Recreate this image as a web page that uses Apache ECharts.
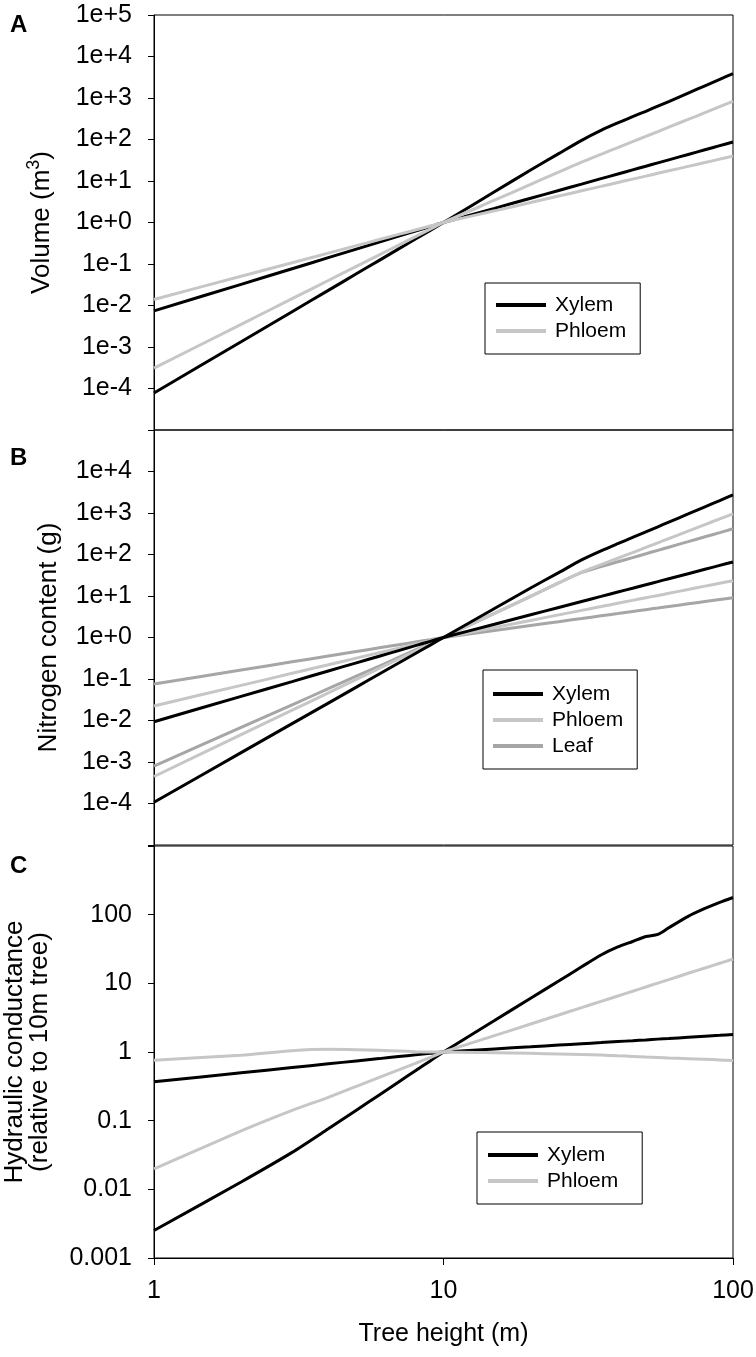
<!DOCTYPE html>
<html>
<head>
<meta charset="utf-8">
<script src="https://cdn.jsdelivr.net/npm/echarts@6/dist/echarts.min.js"></script>
<style>
html,body{margin:0;padding:0;background:#fff;}
#chart{width:756px;height:1357px;}
</style>
</head>
<body>
<div id="chart"></div>
<script>
// Tree heights (m) at which every curve is sampled
const heights = [1,2,3,4,5,6,7,8,9,10,15,20,25,30,35,40,45,50,55,60,70,80,90,100];

// Panel A: Volume (m3)
const volXylemSteep    = [7.8e-5,1.34e-3,7.1e-3,0.0231,0.058,0.1225,0.231,0.399,0.647,1,5.49,18.4,45.7,95.5,166,251,355,479,635,822,1315,1972,2818,3890];
const volXylemShallow  = [0.00741,0.0324,0.0769,0.142,0.229,0.337,0.468,0.621,0.798,1,2.19,3.84,5.92,8.42,11.4,14.7,18.5,22.7,27.3,32.3,43.6,56.5,71,87];
const volPhloemSteep   = [3.09e-4,3.52e-3,0.0146,0.0401,0.0878,0.166,0.286,0.457,0.690,1,3.44,8.28,16.4,28.5,44,63.8,88.7,119,155,199,305,444,618,830];
const volPhloemShallow = [0.0140,0.0507,0.107,0.183,0.277,0.388,0.516,0.661,0.822,1,1.91,3.03,4.33,5.80,7.41,9.19,11.1,13.1,15.3,17.6,22.5,27.8,33.6,39.8];

// Panel B: Nitrogen content (g)
const nXylemSteep    = [1.07e-4,1.68e-3,8.39e-3,0.0263,0.0638,0.132,0.243,0.412,0.656,1,4.98,15.6,36.5,74,122,182,257,352,465,603,951,1413,2000,2735];
const nXylemShallow  = [0.00933,0.0381,0.0867,0.156,0.245,0.354,0.484,0.635,0.807,1,2.09,3.53,5.30,7.38,9.77,12.5,15.4,18.7,22.2,26.1,34.5,44.0,54.6,66.1];
const nPhloemSteep   = [4.47e-4,4.55e-3,0.0177,0.0464,0.0981,0.180,0.303,0.473,0.702,1,3.81,9.84,20.6,37.5,56.8,81.3,111,148,191,242,367,525,720,957];
const nPhloemShallow = [0.0224,0.0703,0.137,0.220,0.319,0.431,0.555,0.692,0.839,1,1.74,2.58,3.51,4.51,5.56,6.68,7.85,9.08,10.3,11.6,14.4,17.3,20.3,23.4];
const nLeafSteep     = [7.94e-4,6.81e-3,0.0239,0.0584,0.117,0.205,0.331,0.500,0.720,1,3.81,9.84,20.6,37.0,51.1,66.7,84.3,104,126,150,204,267,337,417];
const nLeafShallow   = [0.0759,0.165,0.259,0.358,0.460,0.564,0.670,0.778,0.888,1,1.48,1.95,2.41,2.87,3.33,3.78,4.24,4.69,5.13,5.58,6.47,7.36,8.24,9.12];

// Panel C: Hydraulic conductance (relative to 10 m tree)
const kXylemSteep    = [0.00251,0.0128,0.0345,0.0760,0.1420,0.237,0.366,0.533,0.742,1,2.87,6.07,10.8,17.4,25.9,33.9,40.7,48.1,51.5,64.4,94.4,123,151,178];
const kXylemShallow  = [0.369,0.498,0.594,0.673,0.741,0.801,0.857,0.908,0.955,1,1.11,1.19,1.26,1.32,1.37,1.42,1.46,1.50,1.54,1.57,1.64,1.70,1.75,1.80];
const kPhloemSteep   = [0.0198,0.0708,0.141,0.219,0.316,0.427,0.550,0.684,0.836,1,1.73,2.56,3.46,4.43,5.46,6.53,7.67,8.85,10.07,11.3,14.0,16.7,19.6,22.6];
const kPhloemShallow = [0.76,0.90,1.045,1.095,1.08,1.057,1.035,1.01,1.0,1,0.977,0.955,0.938,0.923,0.902,0.881,0.863,0.847,0.834,0.820,0.800,0.783,0.767,0.75];

// Tick labels
const xTickLabels = {1:'1',10:'10',100:'100'};

const FONT = "'Liberation Sans', Arial, Helvetica, sans-serif";
const C_XYLEM = '#000000', C_PHLOEM = '#c6c6c6', C_LEAF = '#a6a6a6';

function pairs(arr){ return heights.map((h,i)=>[h, arr[i]]); }
function expo(v){ return Math.round(Math.log10(v)); }
function sciLabel(hide){
  return function(v){ const e = expo(v); if (hide.indexOf(e) >= 0) return ''; return '1e' + (e >= 0 ? '+' : '') + e; };
}
function decLabel(v){
  const e = expo(v); if (e >= 3) return '';
  return e >= 0 ? String(Math.pow(10,e)) : Math.pow(10,e).toFixed(-e);
}

const grids = [
  {left:154, top:15, width:579, height:415},
  {left:154, top:430, width:579, height:415},
  {left:154, top:846, width:579, height:412}
].map(g => Object.assign(g, {show:true, borderColor:'#000', borderWidth:1, backgroundColor:'transparent',
  containLabel:false, outerBoundsMode:'none'}));

function xAxis(idx, showLab){
  return {
    type:'log', logBase:10, min:1, max:100, gridIndex:idx,
    axisLine:{show:showLab, lineStyle:{color:'#000', width:1}},
    axisTick:{show:showLab, inside:false, length:7, lineStyle:{color:'#000'}},
    axisLabel:{show:showLab, margin:21, fontSize:25, color:'#000', fontFamily:FONT,
      formatter: v => xTickLabels[Math.round(v)] || ''},
    splitLine:{show:false},
    name: showLab ? 'Tree height (m)' : '',
    nameLocation:'middle', nameGap:64,
    nameTextStyle:{fontSize:25, color:'#000', fontFamily:FONT}
  };
}
function yAxis(idx, min, max, fmt, name, nameGap, rich){
  return {
    type:'log', logBase:10, min:min, max:max, interval:1, gridIndex:idx,
    axisLine:{show:true, lineStyle:{color:'#000', width:1}},
    axisTick:{show:true, inside:false, length:6, lineStyle:{color:'#000'}},
    axisLabel:{margin:22, fontSize:25, color:'#000', fontFamily:FONT, formatter:fmt},
    splitLine:{show:false},
    name:name, nameLocation:'middle', nameGap:nameGap,
    nameTextStyle:Object.assign({fontSize:26, color:'#000', fontFamily:FONT, lineHeight:25}, rich ? {rich:rich} : {})
  };
}

function line(name, color, idx, arr){
  return {
    type:'line', name:name, xAxisIndex:idx, yAxisIndex:idx, data:pairs(arr),
    symbol:'none', smooth:0.25, silent:true,
    lineStyle:{color:color, width:3}, itemStyle:{color:color}
  };
}

function legend(names, left, top, padding){
  return {
    data:names, orient:'vertical', left:left, top:top, padding:padding,
    borderColor:'#000', borderWidth:1, backgroundColor:'#fff',
    icon:'rect', itemWidth:50, itemHeight:4, itemGap:4, selectedMode:false,
    textStyle:{fontSize:21, color:'#000', fontFamily:FONT, lineHeight:22, padding:[0,0,0,4]}
  };
}

const option = {
  animation:false,
  backgroundColor:'#fff',
  grid:grids,
  xAxis:[xAxis(0,false), xAxis(1,false), xAxis(2,true)],
  yAxis:[
    yAxis(0, 1e-5, 1e5, sciLabel([-5]), 'Volume (m{sup|3})', 100,
      {sup:{fontSize:18, fontFamily:FONT, color:'#000', padding:[0,0,11,0], verticalAlign:'bottom'}}),
    yAxis(1, 1e-5, 1e5, sciLabel([-5,5]), 'Nitrogen content (g)', 93),
    yAxis(2, 1e-3, 1e3, decLabel, 'Hydraulic conductance\n(relative to 10m tree)', 102)
  ],
  legend:[
    legend(['Xylem','Phloem'], 485, 283, [11,14,12,11]),
    legend(['Xylem','Phloem','Leaf'], 483, 670, [13,14,12,10]),
    legend(['Xylem','Phloem'], 477, 1132, [12,24,12,11])
  ],
  graphic:[
    {type:'text', left:10, top:13, style:{text:'A', font:'bold 24px ' + FONT, fill:'#000'}},
    {type:'text', left:10, top:446, style:{text:'B', font:'bold 24px ' + FONT, fill:'#000'}},
    {type:'text', left:10, top:854, style:{text:'C', font:'bold 24px ' + FONT, fill:'#000'}}
  ],
  series:[
    line('Xylem', C_XYLEM, 0, volXylemSteep),
    line('Xylem', C_XYLEM, 0, volXylemShallow),
    line('Phloem', C_PHLOEM, 0, volPhloemSteep),
    line('Phloem', C_PHLOEM, 0, volPhloemShallow),
    line('Leaf', C_LEAF, 1, nLeafSteep),
    line('Leaf', C_LEAF, 1, nLeafShallow),
    line('Phloem', C_PHLOEM, 1, nPhloemSteep),
    line('Phloem', C_PHLOEM, 1, nPhloemShallow),
    line('Xylem', C_XYLEM, 1, nXylemSteep),
    line('Xylem', C_XYLEM, 1, nXylemShallow),
    line('Xylem', C_XYLEM, 2, kXylemSteep),
    line('Xylem', C_XYLEM, 2, kXylemShallow),
    line('Phloem', C_PHLOEM, 2, kPhloemSteep),
    line('Phloem', C_PHLOEM, 2, kPhloemShallow)
  ]
};
const chart = echarts.init(document.getElementById('chart'), null, {renderer:'canvas'});
chart.setOption(option);
</script>
</body>
</html>
